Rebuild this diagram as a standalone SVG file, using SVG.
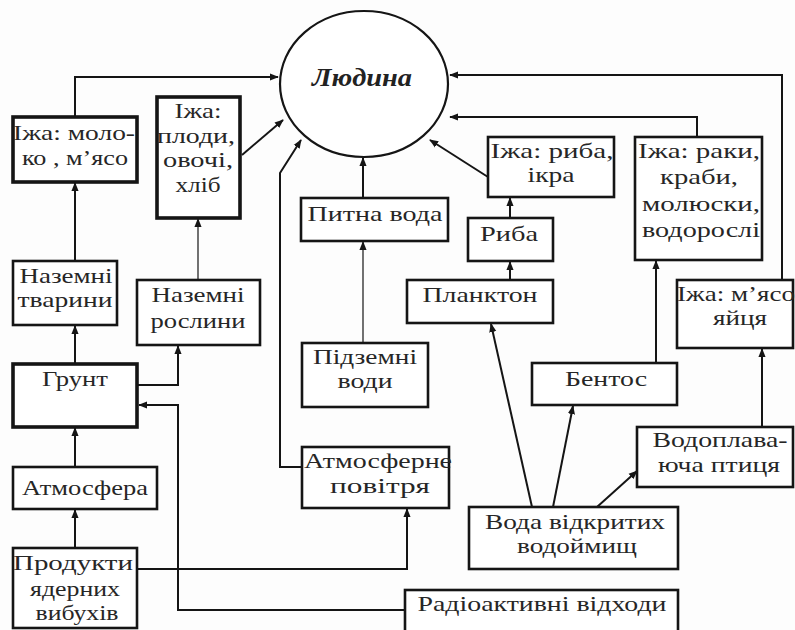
<svg xmlns="http://www.w3.org/2000/svg" width="795" height="630" viewBox="0 0 795 630">
<style>
.bg{fill:#fdfdfd}
.box{fill:#ffffff;stroke:#151515;stroke-width:2.6}
.thick{stroke-width:3.6}
.t{font-size:22px;fill:#262626;text-anchor:middle}
.title{font-size:26px;font-weight:bold;font-style:italic;fill:#222;text-anchor:middle}
.c{fill:none;stroke:#151515;stroke-width:2}
.thin{stroke-width:1.2}
</style>
<defs>
<marker id="ah" viewBox="0 0 10 10" refX="9" refY="5" markerWidth="9" markerHeight="9" markerUnits="userSpaceOnUse" orient="auto">
<path d="M0,1 L10,5 L0,9 Z" fill="#151515"/>
</marker>
</defs>
<rect class="bg" x="0" y="0" width="795" height="630"/>

<g id="connectors">
<path class="c" d="M75,117 V77 H278" marker-end="url(#ah)"/>
<path class="c" d="M242,155 L283,120" marker-end="url(#ah)"/>
<path class="c" d="M302,467 H280 V173 L301,140" marker-end="url(#ah)"/>
<path class="c" d="M363,198 V158" marker-end="url(#ah)"/>
<path class="c" d="M488,177 L430,140" marker-end="url(#ah)"/>
<path class="c" d="M697,137 V117 H450" marker-end="url(#ah)"/>
<path class="c" d="M782,280 V75 H450" marker-end="url(#ah)"/>
<path class="c" d="M75,261 V183" marker-end="url(#ah)"/>
<path class="c thin" d="M198,280 V219" marker-end="url(#ah)"/>
<path class="c" d="M75,364 V326" marker-end="url(#ah)"/>
<path class="c" d="M138,385 H178 V346" marker-end="url(#ah)"/>
<path class="c" d="M75,467 V428" marker-end="url(#ah)"/>
<path class="c" d="M75,548 V510" marker-end="url(#ah)"/>
<path class="c" d="M137,569 H407 V509" marker-end="url(#ah)"/>
<path class="c" d="M405,610 H178 V405 H139" marker-end="url(#ah)"/>
<path class="c thin" d="M363,343 V242" marker-end="url(#ah)"/>
<path class="c" d="M510,218 V198" marker-end="url(#ah)"/>
<path class="c" d="M510,280 V262" marker-end="url(#ah)"/>
<path class="c" d="M532,507 L491,324" marker-end="url(#ah)"/>
<path class="c" d="M553,507 L573,406" marker-end="url(#ah)"/>
<path class="c" d="M597,507 L637,471" marker-end="url(#ah)"/>
<path class="c" d="M656,363 V261" marker-end="url(#ah)"/>
<path class="c" d="M762,427 V349" marker-end="url(#ah)"/>
</g>

<g font-family="'Liberation Serif', 'DejaVu Serif', serif">
<g id="lyudyna">
<ellipse cx="364" cy="84" rx="84" ry="73" fill="#ffffff" stroke="#151515" stroke-width="2.2"/>
<text class="title" x="362" y="86" textLength="100" lengthAdjust="spacingAndGlyphs">Людина</text>
</g>

<g id="food-milk">
<rect class="box thick" x="13" y="117" width="124" height="65"/>
<text class="t" x="74" y="140" textLength="122" lengthAdjust="spacingAndGlyphs">Іжа: моло-</text>
<text class="t" x="75" y="165" textLength="106" lengthAdjust="spacingAndGlyphs">ко , м’ясо</text>
</g>

<g id="food-fruit">
<rect class="box thick" x="157" y="97" width="83" height="121"/>
<text class="t" x="198" y="118" textLength="47" lengthAdjust="spacingAndGlyphs">Іжа:</text>
<text class="t" x="196" y="143" textLength="78" lengthAdjust="spacingAndGlyphs">плоди,</text>
<text class="t" x="198" y="167" textLength="70" lengthAdjust="spacingAndGlyphs">овочі,</text>
<text class="t" x="198" y="192" textLength="45" lengthAdjust="spacingAndGlyphs">хліб</text>
</g>

<g id="land-animals">
<rect class="box" x="13" y="261" width="104" height="64"/>
<text class="t" x="66" y="283" textLength="93" lengthAdjust="spacingAndGlyphs">Наземні</text>
<text class="t" x="65" y="307" textLength="95" lengthAdjust="spacingAndGlyphs">тварини</text>
</g>

<g id="land-plants">
<rect class="box" x="137" y="280" width="123" height="65"/>
<text class="t" x="198" y="302" textLength="93" lengthAdjust="spacingAndGlyphs">Наземні</text>
<text class="t" x="198" y="328" textLength="95" lengthAdjust="spacingAndGlyphs">рослини</text>
</g>

<g id="soil">
<rect class="box thick" x="13" y="364" width="124" height="63"/>
<text class="t" x="75" y="386" textLength="66" lengthAdjust="spacingAndGlyphs">Грунт</text>
</g>

<g id="atmosphere">
<rect class="box" x="13" y="467" width="144" height="42"/>
<text class="t" x="85" y="495" textLength="126" lengthAdjust="spacingAndGlyphs">Атмосфера</text>
</g>

<g id="nuclear">
<rect class="box" x="13" y="548" width="124" height="80"/>
<text class="t" x="73" y="570" textLength="120" lengthAdjust="spacingAndGlyphs">Продукти</text>
<text class="t" x="75" y="596" textLength="90" lengthAdjust="spacingAndGlyphs">ядерних</text>
<text class="t" x="77" y="620" textLength="83" lengthAdjust="spacingAndGlyphs">вибухів</text>
</g>

<g id="drinking-water">
<rect class="box" x="301" y="198" width="147" height="43"/>
<text class="t" x="375" y="221" textLength="135" lengthAdjust="spacingAndGlyphs">Питна вода</text>
</g>

<g id="ground-water">
<rect class="box" x="302" y="343" width="126" height="64"/>
<text class="t" x="365" y="364" textLength="104" lengthAdjust="spacingAndGlyphs">Підземні</text>
<text class="t" x="365" y="388" textLength="55" lengthAdjust="spacingAndGlyphs">води</text>
</g>

<g id="atm-air">
<rect class="box" x="302" y="447" width="147" height="61"/>
<text class="t" x="378" y="468" textLength="148" lengthAdjust="spacingAndGlyphs">Атмосферне</text>
<text class="t" x="380" y="493" textLength="100" lengthAdjust="spacingAndGlyphs">повітря</text>
</g>

<g id="food-fish">
<rect class="box" x="488" y="137" width="126" height="60"/>
<text class="t" x="552" y="158" textLength="123" lengthAdjust="spacingAndGlyphs">Іжа: риба,</text>
<text class="t" x="551" y="182" textLength="47" lengthAdjust="spacingAndGlyphs">ікра</text>
</g>

<g id="fish">
<rect class="box" x="468" y="218" width="85" height="43"/>
<text class="t" x="509" y="241" textLength="58" lengthAdjust="spacingAndGlyphs">Риба</text>
</g>

<g id="plankton">
<rect class="box" x="407" y="280" width="146" height="43"/>
<text class="t" x="480" y="302" textLength="115" lengthAdjust="spacingAndGlyphs">Планктон</text>
</g>

<g id="food-seafood">
<rect class="box" x="635" y="137" width="127" height="123"/>
<text class="t" x="699" y="158" textLength="122" lengthAdjust="spacingAndGlyphs">Іжа: раки,</text>
<text class="t" x="699" y="184" textLength="78" lengthAdjust="spacingAndGlyphs">краби,</text>
<text class="t" x="701" y="211" textLength="118" lengthAdjust="spacingAndGlyphs">молюски,</text>
<text class="t" x="701" y="237" textLength="118" lengthAdjust="spacingAndGlyphs">водорослі</text>
</g>

<g id="food-meat-eggs">
<rect class="box" x="677" y="280" width="116" height="68"/>
<text class="t" x="736" y="301" textLength="118" lengthAdjust="spacingAndGlyphs">Іжа: м’ясо</text>
<text class="t" x="740" y="325" textLength="54" lengthAdjust="spacingAndGlyphs">яйця</text>
</g>

<g id="benthos">
<rect class="box" x="532" y="363" width="145" height="42"/>
<text class="t" x="606" y="386" textLength="82" lengthAdjust="spacingAndGlyphs">Бентос</text>
</g>

<g id="waterfowl">
<rect class="box" x="637" y="427" width="156" height="60"/>
<text class="t" x="720" y="447" textLength="135" lengthAdjust="spacingAndGlyphs">Водоплава-</text>
<text class="t" x="719" y="472" textLength="122" lengthAdjust="spacingAndGlyphs">юча птиця</text>
</g>

<g id="open-water">
<rect class="box" x="469" y="507" width="209" height="62"/>
<text class="t" x="575" y="529" textLength="180" lengthAdjust="spacingAndGlyphs">Вода відкритих</text>
<text class="t" x="577" y="553" textLength="120" lengthAdjust="spacingAndGlyphs">водоймищ</text>
</g>

<g id="radioactive-waste">
<rect class="box" x="405" y="590" width="273" height="42"/>
<text class="t" x="542" y="611" textLength="249" lengthAdjust="spacingAndGlyphs">Радіоактивні відходи</text>
</g>
</g>
</svg>
